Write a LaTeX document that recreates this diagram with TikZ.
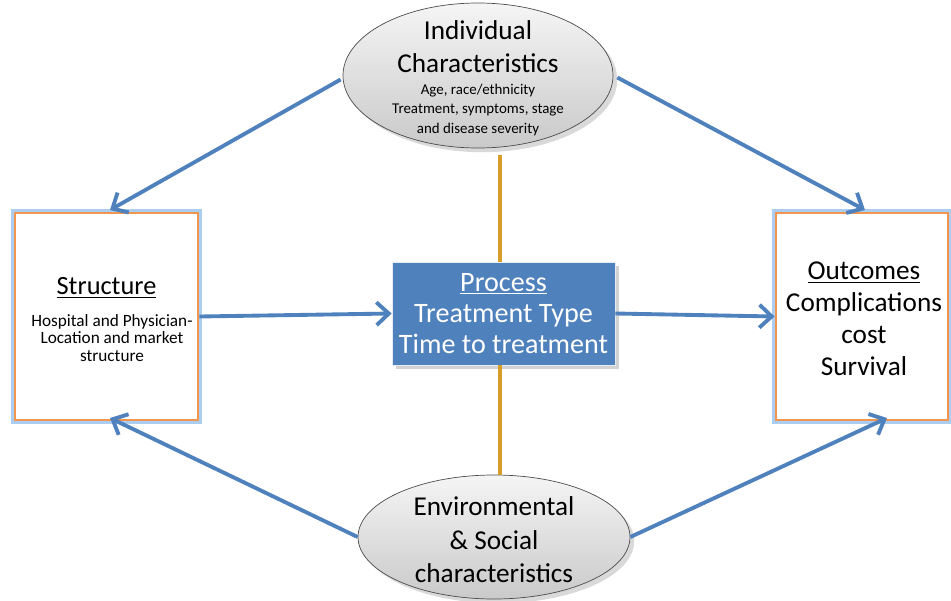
\documentclass[tikz,border=0pt]{standalone}
\usepackage{fontspec}
\setmainfont{Carlito}
\usetikzlibrary{shapes.geometric,arrows.meta,shadows}
\definecolor{offblue}{RGB}{79,129,189}
\definecolor{boxorange}{RGB}{240,150,80}
\definecolor{glowblue}{RGB}{170,205,240}
\definecolor{linkgold}{RGB}{214,158,40}
\begin{document}
\begin{tikzpicture}[x=0.02cm,y=0.02cm,
    link/.style={draw=offblue,line width=2.2pt,-{Straight Barb[length=7pt,width=13pt,line width=2.2pt]}},
    tie/.style={draw=linkgold,line width=2.2pt},
    oval/.style={ellipse,draw=black!70,thin,top color=gray!8,bottom color=gray!42,drop shadow={opacity=0.3}},
    framebox/.style={draw=boxorange,line width=1.6pt,fill=white,preaction={draw=glowblue,line width=5pt}},
    procbox/.style={fill=offblue,draw=white!85!offblue,thin,drop shadow={opacity=0.35},text=white}]
    \useasboundingbox (0,0) rectangle (951,600);

    % ovals
    \node[oval,minimum width=270*0.02cm,minimum height=145*0.02cm] (indiv) at (478,524.5) {};
    \node[oval,minimum width=272*0.02cm,minimum height=124*0.02cm] (envir) at (494,63) {};
    \node[align=center,font=\fontsize{15.5}{18.7}\selectfont] at (478,553.5) {Individual\\Characteristics};
    \node[align=center,font=\fontsize{8.5}{11.3}\selectfont] at (478,490) {Age, race/ethnicity\\Treatment, symptoms, stage\\and disease severity};
    \node[align=center,font=\fontsize{15.5}{19}\selectfont] at (494,60) {Environmental\\\& Social\\characteristics};

    % boxes
    \node[framebox,minimum width=183*0.02cm,minimum height=207*0.02cm] (struct) at (106.5,283.5) {};
    \node[framebox,minimum width=172*0.02cm,minimum height=207*0.02cm] (outc) at (862,283.5) {};
    \node[procbox,minimum width=223*0.02cm,minimum height=103*0.02cm,align=center,font=\fontsize{16}{17.8}\selectfont] (proc) at (503.5,286.5) {\underline{Process}\\Treatment Type\\Time to treatment};
    \node[align=center,font=\fontsize{15}{16}\selectfont] at (106.5,312) {\underline{Structure}};
    \node[align=center,font=\fontsize{9.8}{10}\selectfont] at (112,262) {Hospital and Physician-\\Location and market\\structure};
    \node[align=center,font=\fontsize{15.5}{18.2}\selectfont] at (864,281.5) {\underline{Outcomes}\\Complications\\cost\\Survival};

    % gold ties
    \draw[tie] (500,445) -- (proc.north -| 500,0);
    \draw[tie] (proc.south -| 500,0) -- (500,125);

    % blue arrows
    \draw[link] (indiv.west) ++(-2,-4) -- (110,390);
    \draw[link] (indiv.east) ++(4,-2) -- (865,390);
    \draw[link] (envir.west) -- (110,182);
    \draw[link] (envir.east) -- (887,182);
    \draw[link] (struct.east) -- (proc.west);
    \draw[link] (proc.east) -- (outc.west);
\end{tikzpicture}
\end{document}
